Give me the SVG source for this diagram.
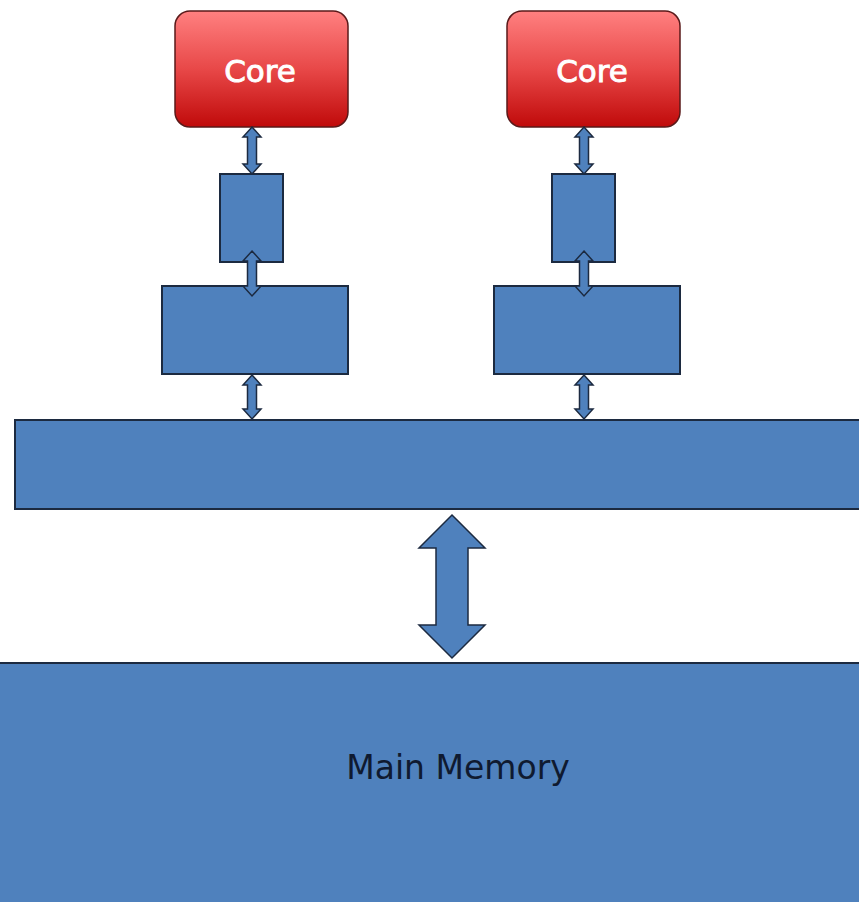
<svg xmlns="http://www.w3.org/2000/svg" width="859" height="902" viewBox="0 0 859 902">
  <defs>
    <linearGradient id="coreFill" x1="0" y1="0" x2="0" y2="1">
      <stop offset="0" stop-color="#ff8080"/>
      <stop offset="0.5" stop-color="#e84848"/>
      <stop offset="1" stop-color="#c00a0a"/>
    </linearGradient>
  </defs>
  <style>
    .core { fill: url(#coreFill); stroke: #5a1a1a; stroke-width: 1.5; }
    .block { fill: #4f81bd; stroke: #1c2a40; stroke-width: 2; }
    .arrow { fill: #4f81bd; stroke: #1c2a40; stroke-width: 1.5; stroke-linejoin: miter; }
    .core-label { fill: #ffffff; stroke: #ffffff; stroke-width: 0.9; font-family: "DejaVu Sans", Verdana, sans-serif; font-size: 31px; text-anchor: middle; }
    .mem-label { fill: #0f1a30; font-family: "DejaVu Sans", Verdana, sans-serif; font-size: 33px; text-anchor: middle; }
  </style>

  <rect width="859" height="902" fill="#ffffff"/>

  <!-- main memory and shared cache -->
  <g id="main-memory">
    <rect class="block" x="-2" y="663" width="864" height="244"/>
    <text class="mem-label" x="458" y="779">Main Memory</text>
  </g>
  <g id="shared-cache">
    <rect class="block" x="15" y="420" width="850" height="89"/>
  </g>

  <!-- left core column -->
  <g id="core-left">
    <rect class="core" x="175" y="11" width="173" height="116" rx="15" ry="15"/>
    <text class="core-label" x="260" y="82">Core</text>
  </g>
  <g id="l1-left">
    <rect class="block" x="220" y="174" width="63" height="88"/>
  </g>
  <g id="l2-left">
    <rect class="block" x="162" y="286" width="186" height="88"/>
  </g>

  <!-- right core column -->
  <g id="core-right">
    <rect class="core" x="507" y="11" width="173" height="116" rx="15" ry="15"/>
    <text class="core-label" x="592" y="82">Core</text>
  </g>
  <g id="l1-right">
    <rect class="block" x="552" y="174" width="63" height="88"/>
  </g>
  <g id="l2-right">
    <rect class="block" x="494" y="286" width="186" height="88"/>
  </g>

  <!-- connectors -->
  <g id="connectors">
    <!-- left column -->
    <path class="arrow" d="M252,127 L261,137 L256.5,137 L256.5,164 L261,164 L252,174 L243,164 L247.5,164 L247.5,137 L243,137 Z"/>
    <path class="arrow" d="M252,251 L261,261 L256.5,261 L256.5,286 L261,286 L252,296 L243,286 L247.5,286 L247.5,261 L243,261 Z"/>
    <path class="arrow" d="M252,375 L261,385 L256.5,385 L256.5,409 L261,409 L252,419 L243,409 L247.5,409 L247.5,385 L243,385 Z"/>
    <!-- right column -->
    <path class="arrow" d="M584,127 L593,137 L588.5,137 L588.5,164 L593,164 L584,174 L575,164 L579.5,164 L579.5,137 L575,137 Z"/>
    <path class="arrow" d="M584,251 L593,261 L588.5,261 L588.5,286 L593,286 L584,296 L575,286 L579.5,286 L579.5,261 L575,261 Z"/>
    <path class="arrow" d="M584,375 L593,385 L588.5,385 L588.5,409 L593,409 L584,419 L575,409 L579.5,409 L579.5,385 L575,385 Z"/>
    <!-- shared cache to main memory -->
    <path class="arrow" d="M452,515 L485,548 L468,548 L468,625 L485,625 L452,658 L419,625 L436,625 L436,548 L419,548 Z"/>
  </g>
</svg>
